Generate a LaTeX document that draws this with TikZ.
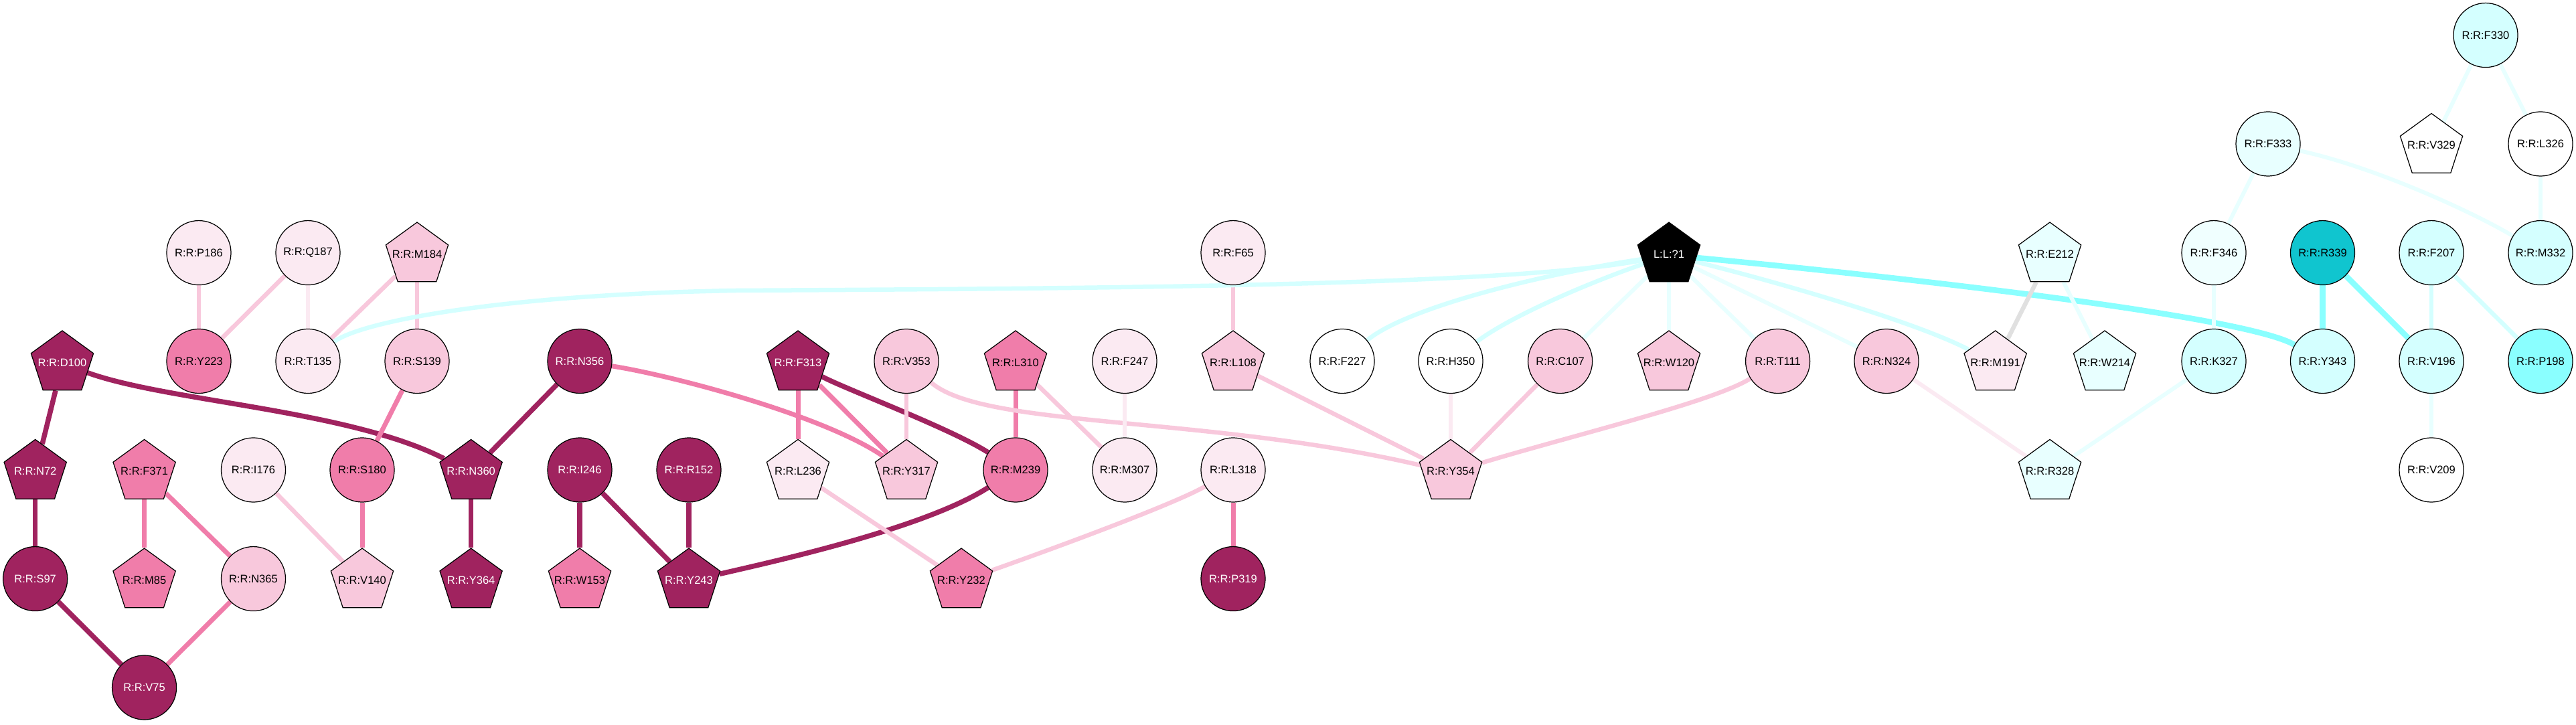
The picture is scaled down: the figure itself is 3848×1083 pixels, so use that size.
\documentclass[tikz,border=0pt]{standalone}
\usepackage{fontspec}
\setmainfont{Liberation Sans}
\usetikzlibrary{shapes.geometric}
\pgfdeclarelayer{bg}
\pgfsetlayers{bg,main}
\definecolor{dk}{HTML}{A0235F}
\definecolor{md}{HTML}{F07DAA}
\definecolor{lt}{HTML}{F8C8DC}
\definecolor{vl}{HTML}{FBEAF2}
\definecolor{cy}{HTML}{8AFFFF}
\definecolor{cyd}{HTML}{10C5CF}
\definecolor{cl}{HTML}{D4FFFF}
\definecolor{cv}{HTML}{E8FFFF}
\definecolor{cw}{HTML}{F0FFFF}
\definecolor{gr}{HTML}{E0E0E0}
\newcommand\fs{\fontsize{4.7pt}{5pt}\selectfont}
\newcommand\rz[1]{\makebox[0pt]{\raisebox{0.85pt}{#1}}}
\begin{document}
\begin{tikzpicture}[x=0.01cm,y=-0.01cm,
  base/.style={draw=black,line width=0.35pt,inner sep=0pt,font=\fs},
  circ/.style={base,circle,minimum size=0.96cm},
  pent/.style={base,regular polygon,regular polygon sides=5,minimum size=0.98cm,yshift=-0.035cm},
  wt/.style={text=white},
  eDk/.style={draw=dk,line width=0.075cm},
  eMd/.style={draw=md,line width=0.07cm},
  eLt/.style={draw=lt,line width=0.065cm},
  eVl/.style={draw=vl,line width=0.06cm},
  eCy/.style={draw=cy,line width=0.085cm},
  eCl/.style={draw=cl,line width=0.065cm},
  eCv/.style={draw=cv,line width=0.06cm},
  eGr/.style={draw=gr,line width=0.065cm}]
\useasboundingbox (0,0) rectangle (3848,1083);
% row 0-1
\node[circ,fill=cl] (F330) at (3713,52.6) {R:R:F330};
\node[circ,fill=cv] (F333) at (3388,215) {R:R:F333};
\node[pent,fill=white] (V329) at (3632,215) {\rz{R:R:V329}};
\node[circ,fill=white] (L326) at (3795,215) {R:R:L326};
% row 2
\node[circ,fill=vl] (P186) at (297,377.6) {R:R:P186};
\node[circ,fill=vl] (Q187) at (460,377.6) {R:R:Q187};
\node[pent,fill=lt] (M184) at (623,377.6) {\rz{R:R:M184}};
\node[circ,fill=vl] (F65) at (1842,377.6) {R:R:F65};
\node[pent,fill=black,wt] (L1) at (2493,377.6) {\rz{L:L:?1}};
\node[pent,fill=cv] (E212) at (3062,377.6) {\rz{R:R:E212}};
\node[circ,fill=cw] (F346) at (3307,377.6) {R:R:F346};
\node[circ,fill=cyd] (R339) at (3469.5,377.6) {R:R:R339};
\node[circ,fill=cl] (F207) at (3632,377.6) {R:R:F207};
\node[circ,fill=cl] (M332) at (3795,377.6) {R:R:M332};
% row 3
\node[pent,fill=dk,wt] (D100) at (93,539.5) {\rz{R:R:D100}};
\node[circ,fill=md] (Y223) at (297,539.5) {R:R:Y223};
\node[circ,fill=vl] (T135) at (460,539.5) {R:R:T135};
\node[circ,fill=lt] (S139) at (623,539.5) {R:R:S139};
\node[circ,fill=dk,wt] (N356) at (866,539.5) {R:R:N356};
\node[pent,fill=dk,wt] (F313) at (1192,539.5) {\rz{R:R:F313}};
\node[circ,fill=lt] (V353) at (1354,539.5) {R:R:V353};
\node[pent,fill=md] (L310) at (1517,539.5) {\rz{R:R:L310}};
\node[circ,fill=vl] (F247) at (1680,539.5) {R:R:F247};
\node[pent,fill=lt] (L108) at (1842,539.5) {\rz{R:R:L108}};
\node[circ,fill=white] (F227) at (2005,539.5) {R:R:F227};
\node[circ,fill=white] (H350) at (2167,539.5) {R:R:H350};
\node[circ,fill=lt] (C107) at (2330.6,539.5) {R:R:C107};
\node[pent,fill=lt] (W120) at (2493,539.5) {\rz{R:R:W120}};
\node[circ,fill=lt] (T111) at (2655.6,539.5) {R:R:T111};
\node[circ,fill=lt] (N324) at (2818,539.5) {R:R:N324};
\node[pent,fill=vl] (M191) at (2980.6,539.5) {\rz{R:R:M191}};
\node[pent,fill=cv] (W214) at (3144,539.5) {\rz{R:R:W214}};
\node[circ,fill=cl] (K327) at (3307,539.5) {R:R:K327};
\node[circ,fill=cl] (Y343) at (3469.5,539.5) {R:R:Y343};
\node[circ,fill=cl] (V196) at (3632,539.5) {R:R:V196};
\node[circ,fill=cy] (P198) at (3795,539.5) {R:R:P198};
% row 4
\node[pent,fill=dk,wt] (N72) at (52.7,702) {\rz{R:R:N72}};
\node[pent,fill=md] (F371) at (215.6,702) {\rz{R:R:F371}};
\node[circ,fill=vl] (I176) at (378.5,702) {R:R:I176};
\node[circ,fill=md] (S180) at (541,702) {R:R:S180};
\node[pent,fill=dk,wt] (N360) at (703.6,702) {\rz{R:R:N360}};
\node[circ,fill=dk,wt] (I246) at (866,702) {R:R:I246};
\node[circ,fill=dk,wt] (R152) at (1029,702) {R:R:R152};
\node[pent,fill=vl] (L236) at (1192,702) {\rz{R:R:L236}};
\node[pent,fill=lt] (Y317) at (1354,702) {\rz{R:R:Y317}};
\node[circ,fill=md] (M239) at (1517,702) {R:R:M239};
\node[circ,fill=vl] (M307) at (1680,702) {R:R:M307};
\node[circ,fill=vl] (L318) at (1842,702) {R:R:L318};
\node[pent,fill=lt] (Y354) at (2167,702) {\rz{R:R:Y354}};
\node[pent,fill=cv] (R328) at (3062,702) {\rz{R:R:R328}};
\node[circ,fill=white] (V209) at (3632,702) {R:R:V209};
% row 5
\node[circ,fill=dk,wt] (S97) at (52.7,864.6) {R:R:S97};
\node[pent,fill=md] (M85) at (215.6,864.6) {\rz{R:R:M85}};
\node[circ,fill=lt] (N365) at (378.5,864.6) {R:R:N365};
\node[pent,fill=lt] (V140) at (541,864.6) {\rz{R:R:V140}};
\node[pent,fill=dk,wt] (Y364) at (703.6,864.6) {\rz{R:R:Y364}};
\node[pent,fill=md] (W153) at (866,864.6) {\rz{R:R:W153}};
\node[pent,fill=dk,wt] (Y243) at (1029,864.6) {\rz{R:R:Y243}};
\node[pent,fill=md] (Y232) at (1436,864.6) {\rz{R:R:Y232}};
\node[circ,fill=dk,wt] (P319) at (1842,864.6) {R:R:P319};
% row 6
\node[circ,fill=dk,wt] (V75) at (215.6,1027) {R:R:V75};

\begin{pgfonlayer}{bg}
% dark
\draw[eDk] (D100) -- (N72);
\draw[eDk] (D100) .. controls (250,600) and (520,612) .. (N360);
\draw[eDk] (N72) -- (S97);
\draw[eDk] (S97) -- (V75);
\draw[eDk] (N356) -- (N360);
\draw[eDk] (N360) -- (Y364);
\draw[eDk] (I246) -- (W153);
\draw[eDk] (I246) -- (Y243);
\draw[eDk] (R152) -- (Y243);
\draw[eDk] (Y243) .. controls (1150,840) and (1380,790) .. (M239);
\draw[eDk] (F313) .. controls (1260,580) and (1420,640) .. (M239);
% medium
\draw[eMd] (F371) -- (M85);
\draw[eMd] (F371) -- (N365);
\draw[eMd] (N365) -- (V75);
\draw[eMd] (S180) -- (V140);
\draw[eMd] (S139) -- (S180);
\draw[eMd] (N356) .. controls (1000,560) and (1230,620) .. (Y317);
\draw[eMd] (F313) -- (L236);
\draw[eMd] (F313) -- (Y317);
\draw[eMd] (L310) -- (M239);
\draw[eMd] (L318) -- (P319);
% light
\draw[eLt] (P186) -- (Y223);
\draw[eLt] (Q187) -- (Y223);
\draw[eLt] (M184) -- (T135);
\draw[eLt] (M184) -- (S139);
\draw[eLt] (I176) -- (V140);
\draw[eLt] (V353) -- (Y317);
\draw[eLt] (V353) .. controls (1470,640) and (1800,620) .. (Y354);
\draw[eLt] (L236) -- (Y232);
\draw[eLt] (L310) -- (M307);
\draw[eLt] (L318) .. controls (1760,750) and (1600,810) .. (Y232);
\draw[eLt] (F65) -- (L108);
\draw[eLt] (L108) -- (Y354);
\draw[eLt] (C107) -- (Y354);
\draw[eLt] (T111) .. controls (2560,600) and (2350,650) .. (Y354);
% very light
\draw[eVl] (Q187) -- (T135);
\draw[eVl] (F247) -- (M307);
\draw[eVl] (H350) -- (Y354);
\draw[eVl] (N324) -- (R328);
% cyan
\draw[eCl] (T135) .. controls (540,480) and (750,440) .. (1100,434) .. controls (1600,431) and (2250,428) .. (L1);
\draw[eCl] (L1) .. controls (2300,410) and (2100,460) .. (F227);
\draw[eCl] (L1) .. controls (2380,420) and (2260,470) .. (H350);
\draw[eCl] (L1) .. controls (2650,420) and (2860,480) .. (M191);
\draw[eCv] (L1) -- (C107);
\draw[eCv] (L1) -- (W120);
\draw[eCv] (L1) -- (T111);
\draw[eCv] (L1) -- (N324);
\draw[eCy] (L1) .. controls (2800,410) and (3350,470) .. (Y343);
\draw[eGr] (E212) -- (M191);
\draw[eCv] (E212) -- (W214);
\draw[eCv] (K327) -- (R328);
\draw[eCv] (F346) -- (K327);
\draw[eCv] (F333) -- (F346);
\draw[eCv] (F333) .. controls (3550,250) and (3700,320) .. (M332);
\draw[eCy] (R339) -- (Y343);
\draw[eCy] (R339) -- (V196);
\draw[eCl] (F207) -- (V196);
\draw[eCl] (F207) -- (P198);
\draw[eCv] (V196) -- (V209);
\draw[eCv] (F330) -- (V329);
\draw[eCv] (F330) -- (L326);
\draw[eCv] (L326) -- (M332);
\end{pgfonlayer}
\end{tikzpicture}
\end{document}
